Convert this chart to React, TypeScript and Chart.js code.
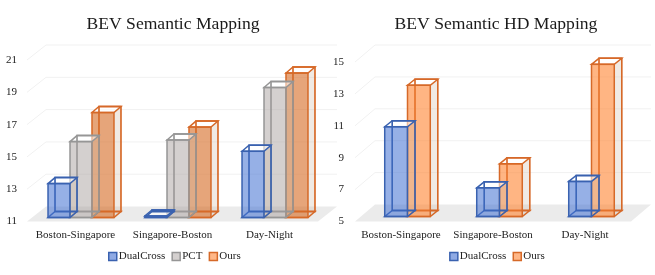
import React, { useEffect, useRef } from "react";
import { Chart, registerables } from "chart.js";

Chart.register(...registerables);

const categories = ["Boston-Singapore", "Singapore-Boston", "Day-Night"];
const mappingDualCross = [13.1, 11.1, 15.1];
const mappingPCT = [15.7, 15.8, 19.05];
const mappingOurs = [17.5, 16.6, 19.95];
const hdDualCross = [10.63, 6.8, 7.2];
const hdOurs = [13.23, 8.3, 14.54];
const mappingTicks = [11, 13, 15, 17, 19, 21];
const hdTicks = [5, 7, 9, 11, 13, 15];

const SERIF = "'Liberation Serif', serif";
const BLUE = { fill: "rgba(68,114,210,0.56)", line: "rgb(58,98,176)" };
const GREY = { fill: "rgba(170,162,160,0.5)", line: "rgb(150,150,150)" };
const ORANGE_DARK = { fill: "rgba(214,110,40,0.62)", line: "rgb(214,105,40)" };
const ORANGE_LIGHT = { fill: "rgba(255,135,55,0.62)", line: "rgb(214,105,40)" };

type Look = {
  wallX: number; wallY: number; offX: number; offY: number;
  depthX: number; depthY: number; legendShift: number; titleShift: number; swatches: string[];
};

const makeScene = (look: Look) => ({
  id: "scene",
  afterLayout(chart: any) {
    chart.legend.left += look.legendShift;
    chart.legend.right += look.legendShift;
    chart.legend.top -= 3;
    chart.legend.bottom -= 3;
    chart.titleBlock.left += look.titleShift;
    chart.titleBlock.right += look.titleShift;
  },
  beforeDatasetsDraw(chart: any) {
    const { ctx, chartArea: a, scales } = chart;
    const { wallX: wx, wallY: wy } = look;
    ctx.save();
    ctx.fillStyle = "#ebebeb";
    ctx.beginPath();
    ctx.moveTo(a.left, a.bottom);
    ctx.lineTo(a.right, a.bottom);
    ctx.lineTo(a.right + wx, a.bottom - wy);
    ctx.lineTo(a.left + wx, a.bottom - wy);
    ctx.closePath();
    ctx.fill();
    ctx.strokeStyle = "#f1f1f1";
    ctx.lineWidth = 1;
    scales.y.ticks.forEach((t: any) => {
      if (t.value === scales.y.min) return;
      const y = scales.y.getPixelForValue(t.value);
      ctx.beginPath();
      ctx.moveTo(a.left, y);
      ctx.lineTo(a.left + wx, y - wy);
      ctx.lineTo(a.right + wx, y - wy);
      ctx.stroke();
    });
    ctx.restore();
  },
  beforeDatasetDraw(chart: any, args: any) {
    const { ctx, chartArea } = chart;
    const ds = chart.data.datasets[args.index];
    const meta = chart.getDatasetMeta(args.index);
    const { offX, offY, depthX: dx, depthY: dy } = look;
    ctx.save();
    ctx.lineWidth = 1.5;
    ctx.lineJoin = "miter";
    meta.data.forEach((el: any) => {
      const p = el.getProps(["x", "y", "base", "width"], true);
      const l = p.x - p.width / 2 + offX;
      const r = p.x + p.width / 2 + offX;
      const t = p.y + offY;
      const b = Math.min(p.base, chartArea.bottom) + offY;
      const poly = (pts: number[][]) => {
        ctx.beginPath();
        pts.forEach(([x, y], i) => (i ? ctx.lineTo(x, y) : ctx.moveTo(x, y)));
        ctx.closePath();
      };
      const back = [[l + dx, t - dy], [r + dx, t - dy], [r + dx, b - dy], [l + dx, b - dy]];
      // side and top faces stay pale; the front carries the series colour
      ctx.fillStyle = "rgba(205,185,165,0.3)";
      poly([[r, t], [r + dx, t - dy], [r + dx, b - dy], [r, b]]);
      ctx.fill();
      ctx.fillStyle = "rgba(255,255,255,0.55)";
      poly([[l, t], [l + dx, t - dy], [r + dx, t - dy], [r, t]]);
      ctx.fill();
      ctx.strokeStyle = ds.borderColor;
      poly(back);
      ctx.stroke();
      poly([[l, b], [l + dx, b - dy], [r + dx, b - dy], [r, b]]);
      ctx.stroke();
      poly([[l, t], [l + dx, t - dy], [r + dx, t - dy], [r, t]]);
      ctx.stroke();
      ctx.fillStyle = ds.backgroundColor;
      ctx.fillRect(l, t, r - l, b - t);
      // the box is see-through: its hidden back edges still show on the front
      ctx.globalAlpha = 0.45;
      poly(back);
      ctx.stroke();
      ctx.globalAlpha = 1;
      ctx.strokeRect(l, t, r - l, b - t);
    });
    ctx.restore();
    return false;
  },
  afterDraw(chart: any) {
    const { ctx, legend } = chart;
    ctx.save();
    legend.legendHitBoxes.forEach((h: any, i: number) => {
      const ds = chart.data.datasets[i];
      const x = h.left - 4.5;
      const y = h.top + h.height / 2 - 4;
      ctx.fillStyle = look.swatches[i];
      ctx.fillRect(x, y, 8, 8);
      ctx.strokeStyle = ds.borderColor;
      ctx.lineWidth = 1.5;
      ctx.strokeRect(x, y, 8, 8);
    });
    ctx.restore();
  },
});

const makeConfig = (opts: {
  title: string; datasets: any[]; ticks: number[]; axisWidth: number; titleBottom: number;
  padRight: number; barShare: number; look: Look; tickPad: number;
}) => ({
  type: "bar" as const,
  data: { labels: categories, datasets: opts.datasets },
  plugins: [makeScene(opts.look)],
  options: {
    responsive: false,
    animation: false as const,
    layout: { padding: { left: 0, right: opts.padRight, top: 0, bottom: 0 } },
    datasets: { bar: { categoryPercentage: opts.barShare, barPercentage: 1 } },
    plugins: {
      tooltip: { enabled: false },
      title: {
        display: true,
        text: opts.title,
        color: "#1a1a1a",
        font: { family: SERIF, size: 17.6, weight: "normal" as const },
        padding: { top: 13.5, bottom: opts.titleBottom },
      },
      legend: {
        position: "bottom" as const,
        onClick: () => {},
        labels: {
          boxWidth: 0,
          boxHeight: 9,
          padding: 11.5,
          color: "#222",
          font: { family: SERIF, size: 11 },
        },
      },
    },
    scales: {
      x: {
        grid: { display: false, drawTicks: false },
        border: { display: false },
        afterFit: (s: any) => { s.height = 21; },
        ticks: {
          color: "#222", padding: 7, maxRotation: 0, autoSkip: false,
          font: { family: SERIF, size: 11 },
        },
      },
      y: {
        min: opts.ticks[0],
        max: opts.ticks[opts.ticks.length - 1],
        grid: { display: false, drawTicks: false },
        border: { display: false },
        afterFit: (s: any) => { s.width = opts.axisWidth; },
        afterBuildTicks: (s: any) => { s.ticks = opts.ticks.map((value) => ({ value })); },
        ticks: {
          color: "#222", padding: opts.tickPad,
          font: { family: SERIF, size: 11 },
        },
      },
    },
  },
});

export default function App() {
  const leftRef = useRef<HTMLCanvasElement>(null);
  const rightRef = useRef<HTMLCanvasElement>(null);

  useEffect(() => {
    const left = new Chart(leftRef.current as any, makeConfig({
      title: "BEV Semantic Mapping",
      ticks: mappingTicks,
      axisWidth: 27,
      padRight: 28,
      tickPad: 10,
      titleBottom: 25.4,
      barShare: 0.68,
      look: {
        wallX: 19, wallY: 15, offX: 5.5, offY: -4, depthX: 7, depthY: 6, legendShift: 18, titleShift: 14,
        swatches: ["rgba(68,114,210,0.6)", "rgba(170,162,160,0.5)", "rgba(255,135,55,0.6)"],
      },
      datasets: [
        { label: "DualCross", data: mappingDualCross, backgroundColor: BLUE.fill, borderColor: BLUE.line },
        { label: "PCT", data: mappingPCT, backgroundColor: GREY.fill, borderColor: GREY.line },
        { label: "Ours", data: mappingOurs, backgroundColor: ORANGE_DARK.fill, borderColor: ORANGE_DARK.line },
      ],
    }) as any);
    const right = new Chart(rightRef.current as any, makeConfig({
      title: "BEV Semantic HD Mapping",
      ticks: hdTicks,
      axisWidth: 25,
      padRight: 30,
      tickPad: 11,
      titleBottom: 27.4,
      barShare: 0.495,
      look: {
        wallX: 20, wallY: 17, offX: 6.5, offY: -5, depthX: 7.5, depthY: 6, legendShift: 19, titleShift: 15.5,
        swatches: ["rgba(68,114,210,0.6)", "rgba(255,135,55,0.6)"],
      },
      datasets: [
        { label: "DualCross", data: hdDualCross, backgroundColor: BLUE.fill, borderColor: BLUE.line },
        { label: "Ours", data: hdOurs, backgroundColor: ORANGE_LIGHT.fill, borderColor: ORANGE_LIGHT.line },
      ],
    }) as any);
    return () => {
      left.destroy();
      right.destroy();
    };
  }, []);

  return (
    <div style={{ position: "absolute", left: 0, top: 0, width: 655, height: 275, overflow: "hidden", background: "#fff" }}>
      <canvas ref={leftRef} width={346} height={275} style={{ position: "absolute", left: 0, top: 0 }} />
      <canvas ref={rightRef} width={331} height={275} style={{ position: "absolute", left: 330, top: 0 }} />
    </div>
  );
}
